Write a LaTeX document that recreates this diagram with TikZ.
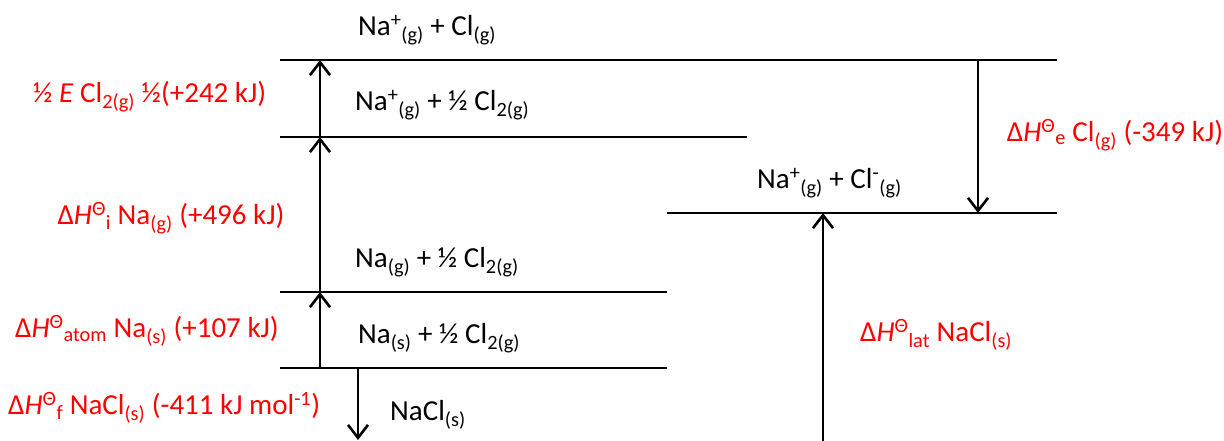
\documentclass[tikz,border=0pt]{standalone}
\usepackage{fontspec}
\setmainfont{Carlito}
\usetikzlibrary{arrows.meta}
\newcommand\sbx[1]{\textsubscript{#1}}
\newcommand\spx[1]{\textsuperscript{#1}}
\begin{document}
\begin{tikzpicture}[x=1pt,y=-1pt,
  lvl/.style={line width=2.6pt},
  uparr/.style={line width=2.6pt,-{Straight Barb[length=13pt,width=20pt]}},
  txt/.style={inner sep=0pt,anchor=west,font=\fontsize{29}{35}\selectfont},
  redtxt/.style={txt,text=red}]
\useasboundingbox (0,0) rectangle (1224,441);
% level coordinates
\coordinate (L1a) at (280,60);  \coordinate (L1b) at (1057,60);
\coordinate (L2a) at (280,137); \coordinate (L2b) at (747,137);
\coordinate (L3a) at (667,213); \coordinate (L3b) at (1057,213);
\coordinate (L4a) at (280,292); \coordinate (L4b) at (667,292);
\coordinate (L5a) at (280,368); \coordinate (L5b) at (667,368);
\draw[lvl] (L1a) -- (L1b);
\draw[lvl] (L2a) -- (L2b);
\draw[lvl] (L3a) -- (L3b);
\draw[lvl] (L4a) -- (L4b);
\draw[lvl] (L5a) -- (L5b);
% arrow coordinates
\coordinate (A1) at (320,60);  \coordinate (A2) at (320,137);
\coordinate (A3) at (320,292); \coordinate (A4) at (320,368);
\coordinate (B1) at (358,368); \coordinate (B2) at (358,440);
\coordinate (C1) at (978,60);  \coordinate (C2) at (978,213);
\coordinate (D1) at (823,441); \coordinate (D2) at (823,213);
\draw[uparr] (A2) -- (A1);
\draw[uparr] (A3) -- (A2);
\draw[uparr] (A4) -- (A3);
\draw[uparr] (B1) -- (B2);
\draw[uparr] (C1) -- (C2);
\draw[uparr] (D1) -- (D2);
% species labels
\node[txt] (t1) at (358,30) {Na\spx{+}\sbx{(g)} + Cl\sbx{(g)}};
\node[txt] (t2) at (355,105) {Na\spx{+}\sbx{(g)} + ½ Cl\sbx{2(g)}};
\node[txt] (t3) at (757,183) {Na\spx{+}\sbx{(g)} + Cl\spx{-}\sbx{(g)}};
\node[txt] (t4) at (355,262) {Na\sbx{(g)} + ½ Cl\sbx{2(g)}};
\node[txt] (t5) at (358,338) {Na\sbx{(s)} + ½ Cl\sbx{2(g)}};
\node[txt] (t6) at (390,415) {NaCl\sbx{(s)}};
% enthalpy labels
\node[redtxt] (r1) at (33,97) {½ \textit{E} Cl\sbx{2(g)} ½(+242 kJ)};
\node[redtxt,anchor=center] (r2) at (171,218) {Δ\textit{H}\spx{Θ}\sbx{i} Na\sbx{(g)} (+496 kJ)};
\node[redtxt] (r3) at (15,331) {Δ\textit{H}\spx{Θ}\sbx{atom} Na\sbx{(s)} (+107 kJ)};
\node[redtxt] (r4) at (8,408) {Δ\textit{H}\spx{Θ}\sbx{f} NaCl\sbx{(s)} (-411 kJ mol\spx{-1})};
\node[redtxt,anchor=center] (r5) at (1115,135) {Δ\textit{H}\spx{Θ}\sbx{e} Cl\sbx{(g)} (-349 kJ)};
\node[redtxt] (r6) at (860,335) {Δ\textit{H}\spx{Θ}\sbx{lat} NaCl\sbx{(s)}};
\end{tikzpicture}
\end{document}
